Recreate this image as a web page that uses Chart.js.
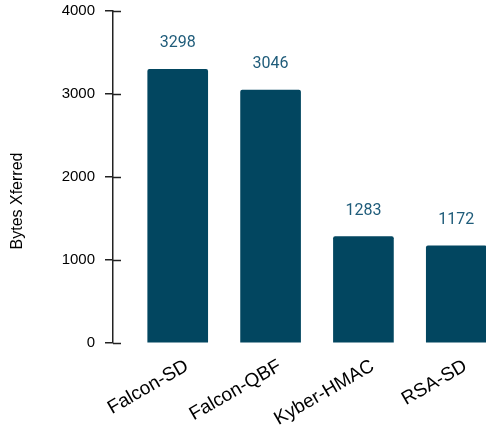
<!DOCTYPE html>
<html>
<head>
<meta charset="utf-8">
<script src="https://cdn.jsdelivr.net/npm/chart.js@4"></script>
<style>
  html, body { margin: 0; padding: 0; background: #fff; }
  #wrap { width: 486px; height: 427px; position: relative; }
</style>
</head>
<body>
<div id="wrap"><canvas id="chart"></canvas></div>
<script>
    // Data
    var categories = ['Falcon-SD', 'Falcon-QBF', 'Kyber-HMAC', 'RSA-SD'];
    var bytesXferred = [3298, 3046, 1283, 1172];
    var yTicks = [0, 1000, 2000, 3000, 4000];

    var barColor = '#024660';
    var labelColor = '#1f5c7a';
    var axisColor = '#222';

    // Value labels above the bars
    var valueLabels = {
        id: 'valueLabels',
        afterDatasetsDraw: function(chart) {
            var ctx = chart.ctx;
            var meta = chart.getDatasetMeta(0);
            ctx.save();
            ctx.font = '16px Roboto';
            ctx.fillStyle = labelColor;
            ctx.textAlign = 'center';
            ctx.textBaseline = 'middle';
            meta.data.forEach(function(bar, i) {
                ctx.fillText(String(bytesXferred[i]), bar.x, bar.y - 26);
            });
            ctx.restore();
        }
    };

    // Inner half of the y ticks, plus the axis title
    var axisExtras = {
        id: 'axisExtras',
        afterDraw: function(chart) {
            var ctx = chart.ctx;
            var y = chart.scales.y;
            var x0 = chart.chartArea.left;
            ctx.save();
            ctx.strokeStyle = axisColor;
            ctx.lineWidth = 1.5;
            yTicks.forEach(function(t) {
                var py = Math.round(y.getPixelForValue(t)) + 0.5;
                ctx.beginPath();
                ctx.moveTo(x0, py);
                ctx.lineTo(x0 + 8, py);
                ctx.stroke();
            });
            ctx.translate(18, 201);
            ctx.rotate(-Math.PI / 2);
            ctx.font = '16px "Liberation Sans", Arial, sans-serif';
            ctx.fillStyle = '#000';
            ctx.textAlign = 'center';
            ctx.textBaseline = 'middle';
            ctx.fillText('Bytes Xferred', 0, 0);
            ctx.restore();
        }
    };

    new Chart(document.getElementById('chart'), {
        type: 'bar',
        data: {
            datasets: [{
                data: bytesXferred.map(function(v, i) { return { x: i, y: v }; }),
                backgroundColor: barColor,
                borderRadius: 2,
                borderSkipped: 'bottom',
                barThickness: 60
            }]
        },
        options: {
            responsive: true,
            maintainAspectRatio: false,
            animation: false,
            layout: { padding: { top: 11, right: 0, bottom: 0, left: 0 } },
            plugins: {
                legend: { display: false },
                tooltip: { enabled: false }
            },
            scales: {
                x: {
                    type: 'linear',
                    offset: false,
                    min: -0.697,
                    max: 3.32,
                    grid: { display: false },
                    border: { display: false },
                    // labels sit a little right of the bar centres, like the original
                    afterBuildTicks: function(scale) {
                        scale.ticks = categories.map(function(c, i) { return { value: i + 0.1 }; });
                    },
                    afterFit: function(scale) { scale.height = 84; },
                    ticks: {
                        autoSkip: false,
                        minRotation: 30,
                        maxRotation: 30,
                        padding: 4,
                        color: '#000',
                        font: { family: '"Liberation Sans", Arial, sans-serif', size: 19 },
                        callback: function(v, i) { return categories[i]; }
                    }
                },
                y: {
                    min: 0,
                    max: 4000,
                    afterBuildTicks: function(scale) {
                        scale.ticks = yTicks.map(function(v) { return { value: v }; });
                    },
                    afterFit: function(scale) {
                        scale.width = 113;
                        scale.paddingTop = 0;
                    },
                    grid: {
                        drawOnChartArea: false,
                        drawTicks: true,
                        tickLength: 8,
                        color: axisColor,
                        lineWidth: 1.5
                    },
                    border: { display: true, color: axisColor, width: 1.5 },
                    ticks: {
                        padding: 10,
                        color: '#000',
                        font: { family: '"Liberation Sans", Arial, sans-serif', size: 15 },
                        callback: function(v) { return String(v); }
                    }
                }
            }
        },
        plugins: [valueLabels, axisExtras]
    });
</script>
</body>
</html>
